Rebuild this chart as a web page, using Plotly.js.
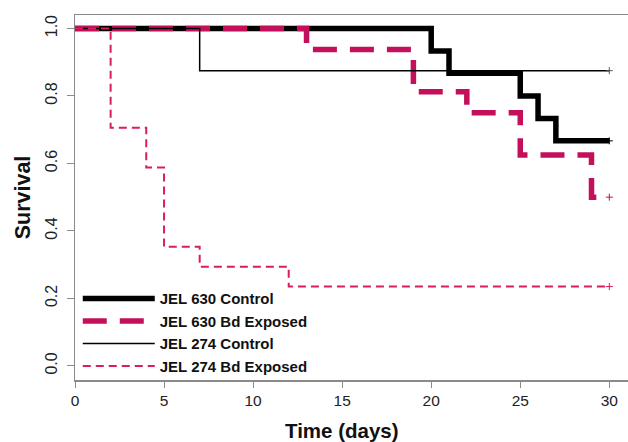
<!DOCTYPE html>
<html>
<head>
<meta charset="utf-8">
<script src="https://cdn.plot.ly/plotly-3.0.1.min.js"></script>
<style>html,body{margin:0;padding:0;background:#fff;}#chart{width:628px;height:442px;}</style>
</head>
<body>
<div id="chart"></div>
<script>
// Kaplan-Meier step data (time in days, survival proportion)
var seriesNames = ["JEL 630 Control", "JEL 630 Bd Exposed", "JEL 274 Control", "JEL 274 Bd Exposed"];

var jel630ControlTime = [0, 20, 21, 25, 26, 27, 30];
var jel630ControlSurv = [1.0, 0.933, 0.867, 0.8, 0.733, 0.667, 0.667];

var jel630ExposedTime = [0, 13, 19, 22, 25, 29, 30];
var jel630ExposedSurv = [1.0, 0.9375, 0.8125, 0.75, 0.625, 0.5, 0.5];

var jel274ControlTime = [0, 7, 30];
var jel274ControlSurv = [1.0, 0.875, 0.875];

var jel274ExposedTime = [0, 2, 4, 5, 7, 12, 30];
var jel274ExposedSurv = [1.0, 0.706, 0.588, 0.353, 0.294, 0.235, 0.235];

var xTicks = [0, 5, 10, 15, 20, 25, 30];
var yTicks = [0.0, 0.2, 0.4, 0.6, 0.8, 1.0];
var yTickText = ["0.0", "0.2", "0.4", "0.6", "0.8", "1.0"];
var xTitle = "Time (days)";
var yTitle = "Survival";

var crimson = "#c4105a";
var pink = "#d81e5e";

var styles = [
  {color: "#000000", width: 5.5, dash: "solid"},
  {color: crimson, width: 5.5, dash: "24px,13px"},
  {color: "#000000", width: 1.5, dash: "solid"},
  {color: pink, width: 2, dash: "8px,5px"}
];
var times = [jel630ControlTime, jel630ExposedTime, jel274ControlTime, jel274ExposedTime];
var survs = [jel630ControlSurv, jel630ExposedSurv, jel274ControlSurv, jel274ExposedSurv];

var traces = [];
for (var i = 0; i < 4; i++) {
  traces.push({
    type: "scatter", mode: "lines", name: seriesNames[i],
    x: times[i], y: survs[i],
    line: {shape: "hv", color: styles[i].color, width: styles[i].width, dash: styles[i].dash},
    hoverinfo: "skip"
  });
}
// censor marks at end of follow-up
for (var j = 0; j < 4; j++) {
  var n = times[j].length - 1;
  traces.push({
    type: "scatter", mode: "markers", showlegend: false,
    x: [times[j][n]], y: [survs[j][n]],
    marker: {symbol: "cross-thin", size: 5, line: {width: 1, color: j === 2 ? "#555" : styles[j].color}},
    hoverinfo: "skip"
  });
}

var layout = {
  width: 628, height: 442,
  margin: {l: 75, r: 0, t: 15, b: 62},
  paper_bgcolor: "#fff", plot_bgcolor: "#fff",
  font: {family: "Liberation Sans, Arial, sans-serif", color: "#222"},
  showlegend: true,
  legend: {
    x: 0.005, y: -0.006, xanchor: "left", yanchor: "bottom",
    bgcolor: "rgba(255,255,255,0)", borderwidth: 0,
    font: {size: 15, color: "#111", family: "Liberation Sans, Arial, sans-serif", weight: "bold"},
    itemwidth: 72, tracegroupgap: 0
  },
  xaxis: {
    range: [0, 31.05], tickvals: xTicks, ticktext: xTicks.map(String),
    showgrid: false, zeroline: false,
    showline: true, mirror: true, linecolor: "#8a8a8a", linewidth: 1.5,
    ticks: "outside", ticklen: 6, tickcolor: "#8a8a8a", tickwidth: 1,
    tickfont: {size: 15.5, color: "#222"},
    title: {text: ""}
  },
  yaxis: {
    range: [-0.042, 1.04], tickvals: yTicks, ticktext: yTickText,
    showgrid: false, zeroline: false,
    showline: true, mirror: false, linecolor: "#8a8a8a", linewidth: 1.5,
    ticks: "outside", ticklen: 7, tickcolor: "#8a8a8a", tickwidth: 1,
    tickangle: -90, ticklabelstandoff: 3,
    tickfont: {size: 16, color: "#222"},
    title: {text: "<b>" + yTitle + "</b>", font: {size: 21.5, color: "#111"}, standoff: 6}
  },
  annotations: [{
    xref: "x", yref: "paper", x: 15, y: 0, yshift: -37,
    xanchor: "center", yanchor: "top", showarrow: false,
    text: "<b>" + xTitle + "</b>", font: {size: 20.5, color: "#111"}
  }]
};

Plotly.newPlot("chart", traces, layout, {staticPlot: true, displayModeBar: false});
</script>
</body>
</html>
